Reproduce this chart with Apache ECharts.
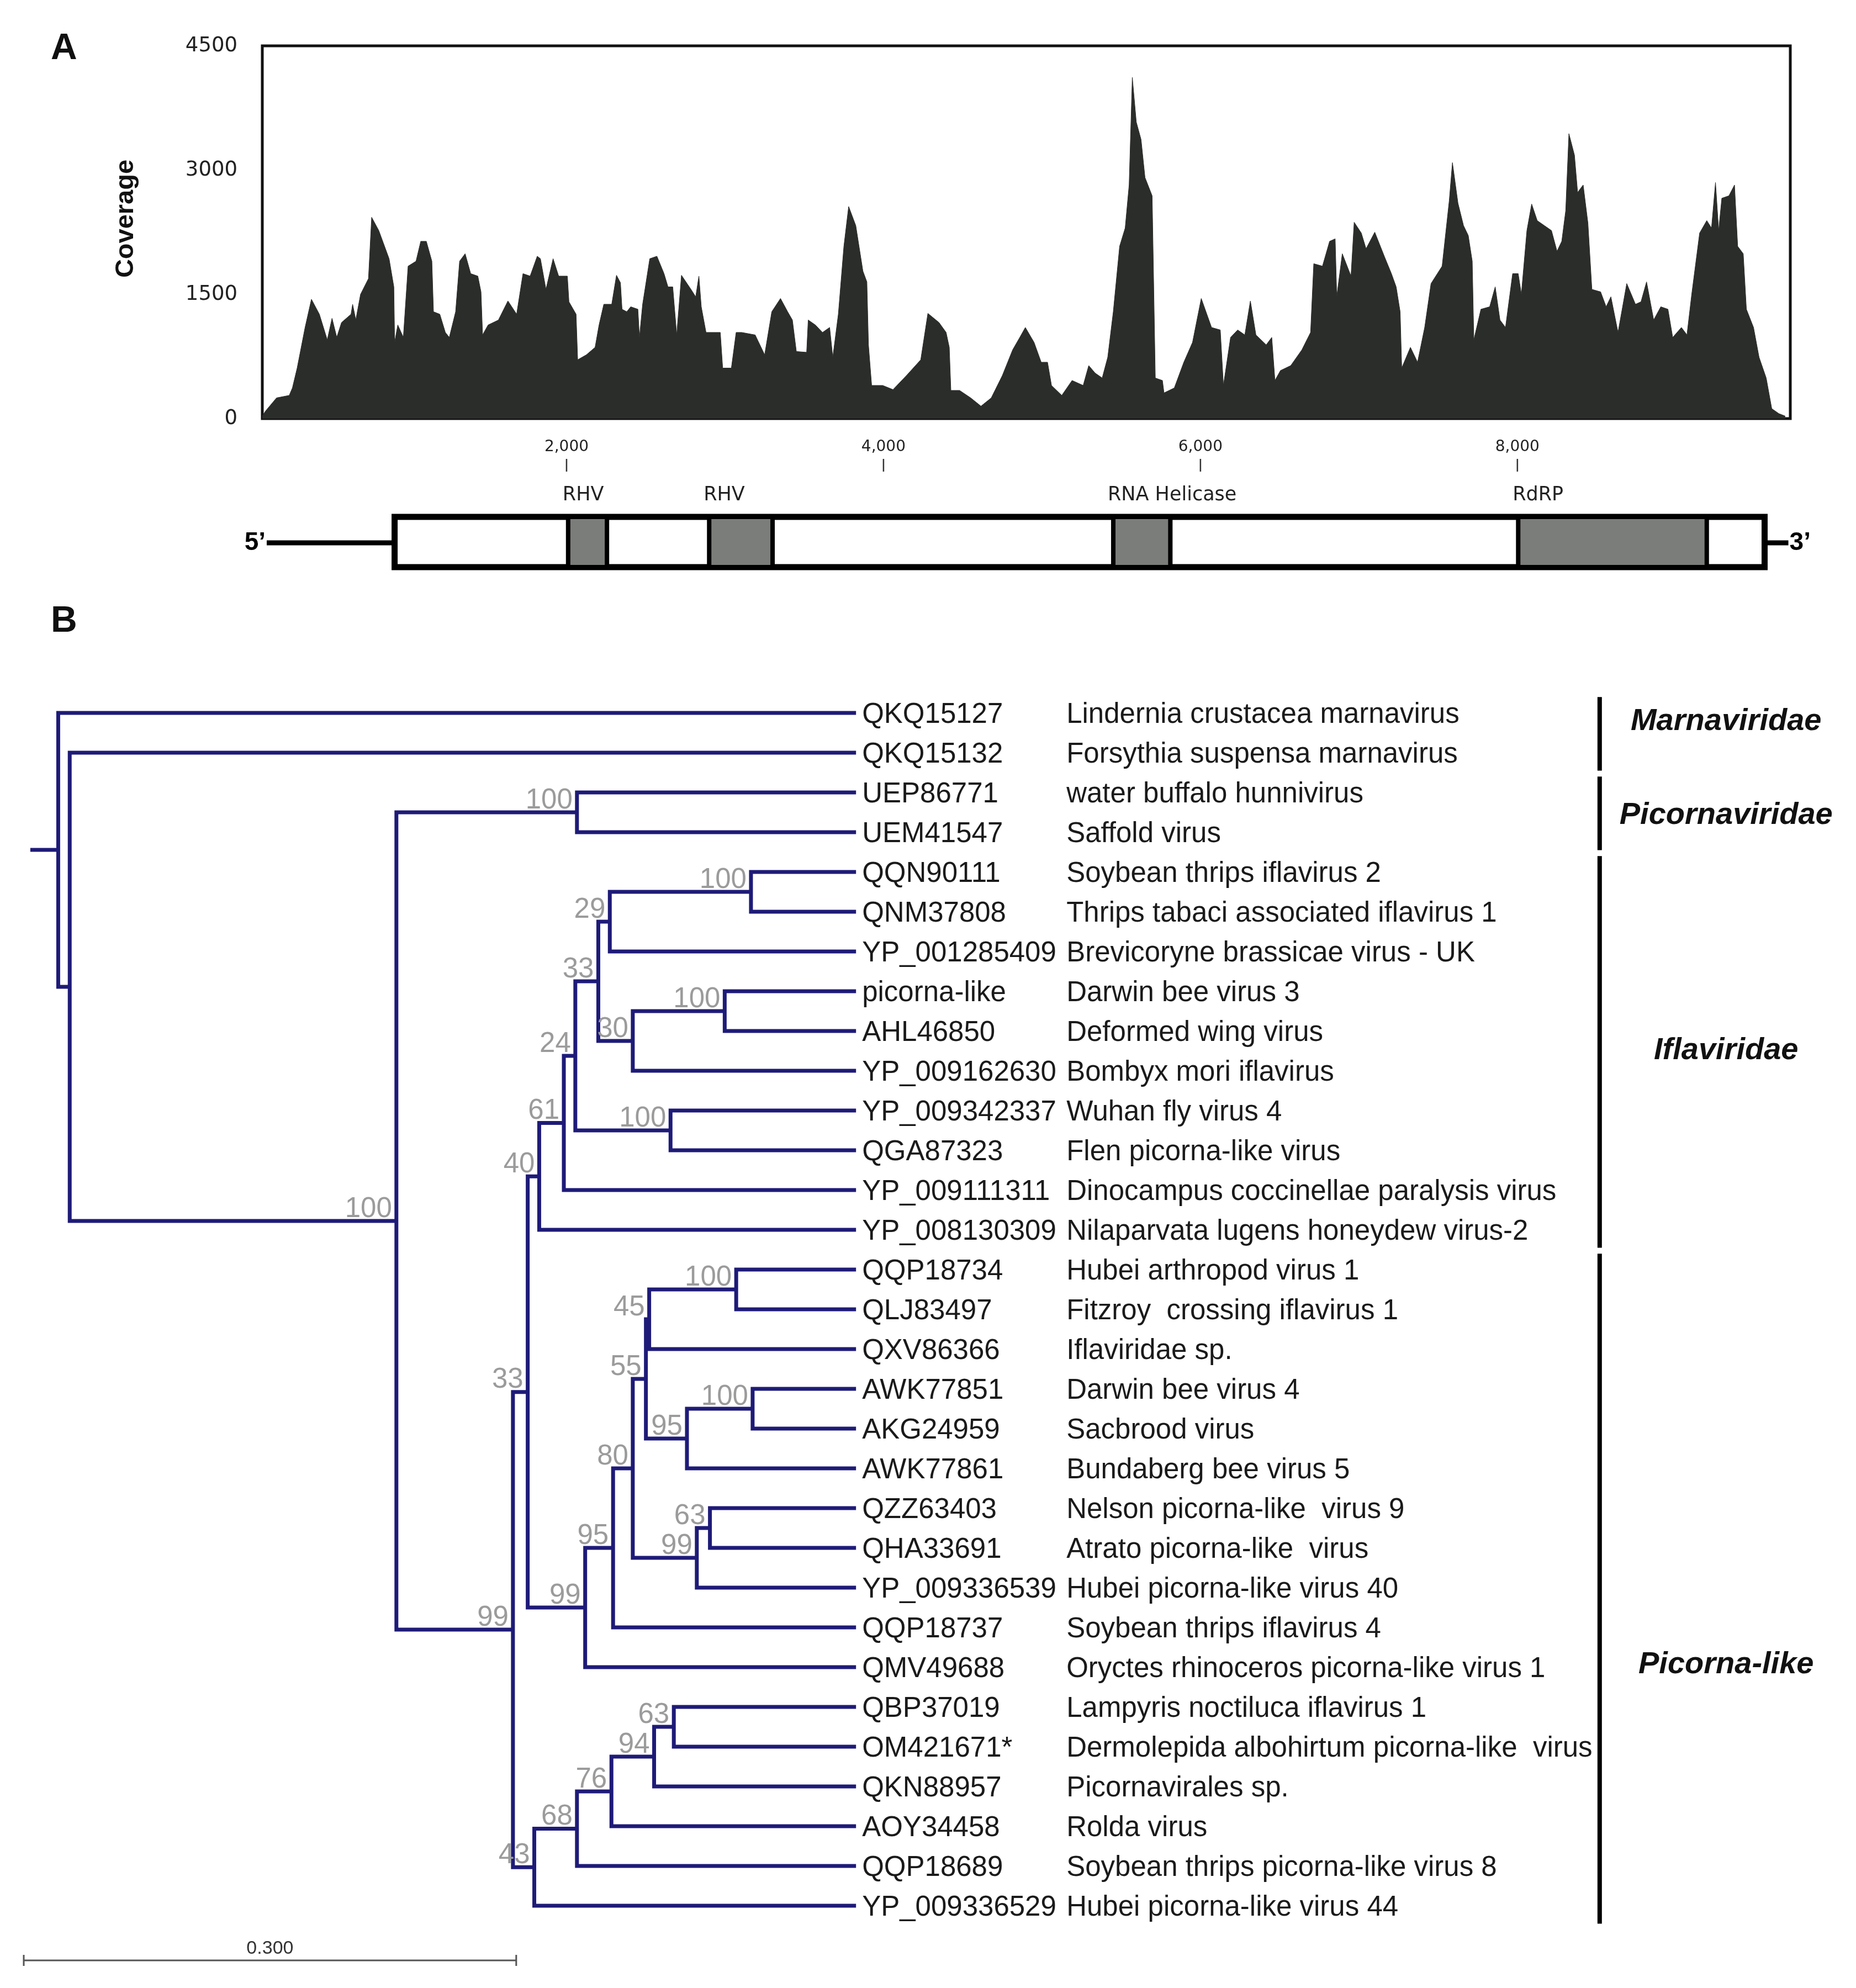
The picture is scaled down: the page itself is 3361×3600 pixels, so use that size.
<!DOCTYPE html>
<html>
<head>
<meta charset="utf-8">
<script src="https://cdn.jsdelivr.net/npm/echarts@6/dist/echarts.min.js"></script>
<style>
  html, body { margin: 0; padding: 0; background: #fff; }
  #chart { width: 3361px; height: 3600px; }
</style>
</head>
<body>
<div id="chart"></div>
<script>
// ---- panel A: read depth along the genome (position nt, coverage) ----
const covPos = [
  80, 100, 170, 250, 270, 300, 350, 390, 440, 490, 520, 550, 580, 640, 650, 670, 700, 750, 770, 815,
  880, 910, 915, 935, 970, 1000, 1050, 1080, 1115, 1150, 1160, 1200, 1235, 1260, 1300, 1325, 1360, 1395, 1440, 1460,
  1470, 1505, 1570, 1630, 1685, 1725, 1770, 1815, 1835, 1870, 1915, 1950, 2005, 2015, 2060, 2070, 2125, 2180, 2205, 2235,
  2285, 2315, 2340, 2350, 2380, 2405, 2450, 2460, 2480, 2525, 2570, 2615, 2640, 2670, 2695, 2725, 2785, 2815, 2835, 2850,
  2880, 2970, 2985, 3040, 3070, 3105, 3190, 3250, 3295, 3350, 3395, 3425, 3450, 3515, 3525, 3570, 3615, 3660, 3680, 3715,
  3750, 3780, 3825, 3870, 3895, 3905, 3925, 3995, 4060, 4145, 4235, 4280, 4350, 4395, 4415, 4425, 4480, 4550, 4615, 4680,
  4750, 4815, 4860, 4895, 4950, 4995, 5035, 5060, 5125, 5190, 5260, 5295, 5335, 5380, 5415, 5450, 5490, 5525, 5550, 5570,
  5595, 5625, 5650, 5695, 5715, 5760, 5770, 5835, 5895, 5950, 6005, 6070, 6125, 6145, 6190, 6235, 6280, 6315, 6350, 6415,
  6450, 6470, 6505, 6570, 6640, 6695, 6715, 6770, 6815, 6850, 6860, 6895, 6950, 6970, 7015, 7045, 7100, 7160, 7205, 7235,
  7260, 7270, 7325, 7370, 7415, 7455, 7525, 7570, 7590, 7625, 7660, 7690, 7715, 7725, 7770, 7825, 7860, 7890, 7925, 7970,
  8005, 8025, 8060, 8090, 8125, 8170, 8215, 8250, 8280, 8305, 8325, 8360, 8380, 8415, 8445, 8470, 8525, 8560, 8590, 8635,
  8690, 8745, 8780, 8815, 8860, 8905, 8950, 8980, 9035, 9070, 9100, 9150, 9195, 9225, 9250, 9270, 9290, 9335, 9370, 9390,
  9425, 9445, 9490, 9525, 9570, 9605, 9650, 9690
];
const covDepth = [
  30, 90, 250, 280, 370, 610, 1100, 1440, 1260, 950, 1210, 980, 1160, 1260, 1380, 1190, 1500, 1690, 2430, 2270,
  1930, 1590, 920, 1130, 980, 1840, 1900, 2140, 2140, 1900, 1290, 1260, 1040, 980, 1290, 1900, 1990, 1750, 1720, 1530,
  1010, 1130, 1190, 1420, 1260, 1750, 1720, 1960, 1930, 1560, 1930, 1720, 1720, 1410, 1260, 710, 770, 860, 1130, 1380,
  1380, 1730, 1640, 1320, 1290, 1350, 1320, 980, 1380, 1930, 1960, 1750, 1590, 1590, 1010, 1730, 1560, 1470, 1720, 1350,
  1040, 1040, 610, 610, 1040, 1040, 1010, 770, 1290, 1450, 1290, 1190, 810, 800, 1190, 1130, 1040, 1100, 740, 1260,
  2080, 2560, 2330, 1780, 1650, 890, 400, 400, 350, 520, 710, 1270, 1160, 1040, 860, 340, 340, 250, 150, 250,
  520, 830, 980, 1100, 920, 680, 680, 400, 280, 460, 400, 640, 550, 490, 740, 1290, 2080, 2300, 2820, 4120,
  3580, 3370, 2910, 2690, 490, 460, 310, 370, 680, 920, 1450, 1100, 1070, 400, 980, 1070, 1010, 1420, 1010, 890,
  980, 460, 580, 640, 830, 1040, 1870, 1840, 2140, 2170, 1470, 1990, 1720, 2370, 2240, 2050, 2250, 1960, 1750, 1590,
  1290, 610, 860, 680, 1100, 1630, 1840, 2630, 3090, 2600, 2330, 2210, 1900, 950, 1320, 1350, 1590, 1190, 1100, 1750,
  1750, 1500, 2270, 2590, 2390, 2330, 2270, 2020, 2140, 2510, 3440, 3180, 2730, 2820, 2360, 1560, 1530, 1350, 1470, 1040,
  1630, 1380, 1410, 1650, 1190, 1350, 1320, 980, 1100, 1010, 1500, 2240, 2390, 2300, 2850, 2270, 2660, 2690, 2820, 2080,
  1990, 1320, 1100, 740, 490, 120, 60, 30
];
const covTicks = [0, 1500, 3000, 4500];
const mapTicks = [2000, 4000, 6000, 8000];

// genome map: 5' end, ORF start, ORF end, 3' end (nt)
const genome = [108, 915, 9560, 9710];
const domainNames = ['RHV', 'RHV', 'RNA Helicase', 'RdRP'];
const domainStart = [2010, 2900, 5450, 8005];
const domainEnd = [2255, 3300, 5810, 9195];

// ---- panel B: ML tree ----
const leafIds = [
  'QKQ15127', 'QKQ15132', 'UEP86771', 'UEM41547', 'QQN90111', 'QNM37808', 'YP_001285409', 'picorna-like',
  'AHL46850', 'YP_009162630', 'YP_009342337', 'QGA87323', 'YP_009111311', 'YP_008130309', 'QQP18734',
  'QLJ83497', 'QXV86366', 'AWK77851', 'AKG24959', 'AWK77861', 'QZZ63403', 'QHA33691', 'YP_009336539',
  'QQP18737', 'QMV49688', 'QBP37019', 'OM421671*', 'QKN88957', 'AOY34458', 'QQP18689', 'YP_009336529'
];
const leafNames = [
  'Lindernia crustacea marnavirus', 'Forsythia suspensa marnavirus', 'water buffalo hunnivirus', 'Saffold virus',
  'Soybean thrips iflavirus 2', 'Thrips tabaci associated iflavirus 1', 'Brevicoryne brassicae virus - UK',
  'Darwin bee virus 3', 'Deformed wing virus', 'Bombyx mori iflavirus', 'Wuhan fly virus 4', 'Flen picorna-like virus',
  'Dinocampus coccinellae paralysis virus', 'Nilaparvata lugens honeydew virus-2', 'Hubei arthropod virus 1',
  'Fitzroy  crossing iflavirus 1', 'Iflaviridae sp.', 'Darwin bee virus 4', 'Sacbrood virus', 'Bundaberg bee virus 5',
  'Nelson picorna-like  virus 9', 'Atrato picorna-like  virus', 'Hubei picorna-like virus 40', 'Soybean thrips iflavirus 4',
  'Oryctes rhinoceros picorna-like virus 1', 'Lampyris noctiluca iflavirus 1', 'Dermolepida albohirtum picorna-like  virus',
  'Picornavirales sp.', 'Rolda virus', 'Soybean thrips picorna-like virus 8', 'Hubei picorna-like virus 44'
];
const tipDepth = 0.507;
const rootStub = 0.004;
// node = [depth, bootstrap, child, child]; numbers are leaf indices
const tree =
  [0.021, 0, 0,
    [0.028, 0, 1,
      [0.227, 100,
        [0.337, 100, 2, 3],
        [0.298, 99,
          [0.307, 33,
            [0.314, 40,
              [0.329, 61,
                [0.336, 24,
                  [0.350, 33,
                    [0.357, 29, [0.443, 100, 4, 5], 6],
                    [0.371, 30, [0.427, 100, 7, 8], 9]],
                  [0.394, 100, 10, 11]],
                12],
              13],
            [0.342, 99,
              [0.359, 95,
                [0.371, 80,
                  [0.379, 55,
                    [0.381, 45, [0.434, 100, 14, 15], 16],
                    [0.404, 95, [0.444, 100, 17, 18], 19]],
                  [0.410, 99, [0.418, 63, 20, 21], 22]],
                23],
              24]],
          [0.311, 43,
            [0.337, 68,
              [0.358, 76,
                [0.384, 94, [0.396, 63, 25, 26], 27],
                28],
              29],
            30]]]]];
const groupNames = ['Marnaviridae', 'Picornaviridae', 'Iflaviridae', 'Picorna-like'];
const groupFirst = [0, 2, 4, 14];
const groupLast = [1, 3, 13, 30];
const groupLabelRow = [0.22, 2.58, 8.49, 23.94];
const scaleBar = 0.3;

// layout constants
const NAVY = '#1e1b78';
const SANS = '"Liberation Sans", Arial, sans-serif';
const DEJA = '"DejaVu Sans", sans-serif';
const MAP_LINE_Y = 0.355, MAP_BOX_TOP = 0.59, MAP_BOX_BOT = 0.135, MAP_LABEL_Y = 0.785;
const BAR_X = 0.960, GROUP_LABEL_X = 1.037, SCALE_ROW = 31.375;

// walk the tree into bracket polylines and bootstrap labels
const brackets = [];
const boots = [];
function walk(n) {
  if (typeof n === 'number') return { d: tipDepth, y: n };
  const a = walk(n[2]), b = walk(n[3]);
  const y = (a.y + b.y) / 2;
  brackets.push([a.d, a.y, n[0], a.y, n[0], b.y, b.d, b.y]);
  if (n[1]) boots.push([n[0], y, n[1]]);
  return { d: n[0], y: y };
}
const rootPos = walk(tree);
brackets.push([rootStub, rootPos.y, rootPos.d, rootPos.y, rootPos.d, rootPos.y, rootPos.d, rootPos.y]);

const chart = echarts.init(document.getElementById('chart'));

chart.setOption({
  backgroundColor: '#fff',
  animation: false,
  graphic: [
    { type: 'text', left: 92, top: 56, style: { text: 'A', font: 'bold 66px ' + SANS, fill: '#111' } },
    { type: 'text', left: 92, top: 1093, style: { text: 'B', font: 'bold 66px ' + SANS, fill: '#111' } },
    { type: 'text', x: 228, y: 396, rotation: Math.PI / 2,
      style: { text: 'Coverage', font: 'bold 47px ' + SANS, fill: '#111', align: 'center', verticalAlign: 'middle' } }
  ],
  grid: [
    { left: 475, top: 83, width: 2767, height: 675, show: true, borderColor: '#111', borderWidth: 5,
      containLabel: false, outerBoundsMode: 'none' },
    { left: 452, top: 854, width: 2790, height: 200, containLabel: false, outerBoundsMode: 'none' },
    { left: 43, top: 1219, width: 3270, height: 2376, containLabel: false, outerBoundsMode: 'none' }
  ],
  xAxis: [
    { gridIndex: 0, type: 'value', min: 80, max: 9722, show: false },
    { gridIndex: 1, type: 'value', min: 0, max: 9722, show: false },
    { gridIndex: 2, type: 'value', min: 0, max: 1.1, show: false }
  ],
  yAxis: [
    {
      gridIndex: 0, type: 'value', min: 0, max: 4500, interval: 1500,
      axisLine: { show: false }, axisTick: { show: false }, splitLine: { show: false },
      axisLabel: { margin: 45, fontSize: 37, fontFamily: DEJA, color: '#222',
        formatter: v => covTicks.includes(v) ? String(v) : '' }
    },
    { gridIndex: 1, type: 'value', min: 0, max: 1, show: false },
    { gridIndex: 2, type: 'value', min: -1, max: 32, inverse: true, show: false }
  ],
  series: [
    {
      type: 'line', xAxisIndex: 0, yAxisIndex: 0,
      data: covPos.map((p, i) => [p, covDepth[i]]),
      showSymbol: false, symbol: 'none',
      lineStyle: { color: '#2b2d2a', width: 1 },
      areaStyle: { color: '#2b2d2a', opacity: 1 }
    },
    {
      // genome position ticks above the map (labels sit above the tick marks)
      type: 'custom', xAxisIndex: 1, yAxisIndex: 1,
      data: mapTicks.map(v => [v]),
      renderItem: (params, api) => {
        const p = api.coord([api.value(0), 1]);
        return {
          type: 'group', children: [
            { type: 'line', shape: { x1: p[0], y1: p[1] - 23, x2: p[0], y2: p[1] }, style: { stroke: '#333', lineWidth: 2.5 } },
            { type: 'text', x: p[0], y: p[1] - 44, style: { text: api.value(0).toLocaleString('en-US'),
              font: '28px ' + DEJA, fill: '#222', align: 'center', verticalAlign: 'middle' } }
          ]
        };
      }
    },
    {
      // genome backbone and ORF box
      type: 'custom', xAxisIndex: 1, yAxisIndex: 1,
      data: [genome],
      renderItem: (params, api) => {
        const s = api.coord([api.value(0), MAP_LINE_Y]);
        const a = api.coord([api.value(1), MAP_BOX_TOP]);
        const b = api.coord([api.value(2), MAP_BOX_BOT]);
        const e = api.coord([api.value(3), MAP_LINE_Y]);
        return {
          type: 'group', children: [
            { type: 'line', shape: { x1: s[0], y1: s[1], x2: a[0], y2: s[1] }, style: { stroke: '#000', lineWidth: 9 } },
            { type: 'line', shape: { x1: b[0], y1: e[1], x2: e[0], y2: e[1] }, style: { stroke: '#000', lineWidth: 9 } },
            { type: 'rect', shape: { x: a[0], y: a[1], width: b[0] - a[0], height: b[1] - a[1] },
              style: { fill: '#fff', stroke: '#000', lineWidth: 11 } },
            { type: 'text', x: s[0] - 2, y: s[1], style: { text: '5\u2019', font: 'bold 46px ' + SANS, fill: '#000',
              align: 'right', verticalAlign: 'middle' } },
            { type: 'text', x: e[0] + 2, y: e[1], style: { text: '3\u2019', font: 'bold 46px ' + SANS, fill: '#000',
              align: 'left', verticalAlign: 'middle' } }
          ]
        };
      }
    },
    {
      // protein domains
      type: 'custom', xAxisIndex: 1, yAxisIndex: 1, z: 3,
      data: domainStart.map((s, i) => [s, domainEnd[i], i]),
      renderItem: (params, api) => {
        const a = api.coord([api.value(0), MAP_BOX_TOP]);
        const b = api.coord([api.value(1), MAP_BOX_BOT]);
        const t = api.coord([api.value(0), MAP_LABEL_Y]);
        return {
          type: 'group', children: [
            { type: 'rect', shape: { x: a[0], y: a[1], width: b[0] - a[0], height: b[1] - a[1] },
              style: { fill: '#7b7d7a', stroke: '#000', lineWidth: 8 } },
            { type: 'text', x: t[0] - 10, y: t[1], style: { text: domainNames[api.value(2)], font: '35px ' + DEJA,
              fill: '#222', align: 'left', verticalAlign: 'middle' } }
          ]
        };
      }
    },
    {
      // tree branches
      type: 'custom', xAxisIndex: 2, yAxisIndex: 2,
      data: brackets,
      renderItem: (params, api) => {
        const pts = [0, 2, 4, 6].map(k => api.coord([api.value(k), api.value(k + 1)]));
        return { type: 'polyline', shape: { points: pts },
          style: { stroke: NAVY, lineWidth: 7, fill: null, lineJoin: 'miter' } };
      }
    },
    {
      // bootstrap values
      type: 'custom', xAxisIndex: 2, yAxisIndex: 2,
      data: boots,
      renderItem: (params, api) => {
        const p = api.coord([api.value(0), api.value(1)]);
        return { type: 'text', x: p[0] - 8, y: p[1] + 4,
          style: { text: String(api.value(2)), font: '51px ' + SANS, fill: '#9b9b9b', align: 'right', verticalAlign: 'bottom' } };
      }
    },
    {
      // tip labels
      type: 'custom', xAxisIndex: 2, yAxisIndex: 2,
      data: leafIds.map((id, i) => [tipDepth, i]),
      renderItem: (params, api) => {
        const p = api.coord([api.value(0), api.value(1)]);
        const i = params.dataIndex;
        return {
          type: 'group', children: [
            { type: 'text', x: p[0] + 11, y: p[1] + 4, style: { text: leafIds[i], font: '51px ' + SANS, fill: '#1a1a1a',
              align: 'left', verticalAlign: 'middle' } },
            { type: 'text', x: p[0] + 381, y: p[1] + 4, style: { text: leafNames[i], font: '51px ' + SANS, fill: '#1a1a1a',
              align: 'left', verticalAlign: 'middle' } }
          ]
        };
      }
    },
    {
      // clade bars and names
      type: 'custom', xAxisIndex: 2, yAxisIndex: 2,
      data: groupNames.map((g, i) => [BAR_X, groupFirst[i] - 0.4, groupLast[i] + 0.45, groupLabelRow[i], i]),
      renderItem: (params, api) => {
        const a = api.coord([api.value(0), api.value(1)]);
        const b = api.coord([api.value(0), api.value(2)]);
        const t = api.coord([GROUP_LABEL_X, api.value(3)]);
        return {
          type: 'group', children: [
            { type: 'line', shape: { x1: a[0], y1: a[1], x2: b[0], y2: b[1] }, style: { stroke: '#000', lineWidth: 8 } },
            { type: 'text', x: t[0], y: t[1], style: { text: groupNames[api.value(4)], font: 'italic bold 56px ' + SANS,
              fill: '#111', align: 'center', verticalAlign: 'middle' } }
          ]
        };
      }
    },
    {
      // scale bar
      type: 'custom', xAxisIndex: 2, yAxisIndex: 2,
      data: [[0, scaleBar, SCALE_ROW]],
      renderItem: (params, api) => {
        const a = api.coord([api.value(0), api.value(2)]);
        const b = api.coord([api.value(1), api.value(2)]);
        const st = { stroke: '#555', lineWidth: 3 };
        return {
          type: 'group', children: [
            { type: 'line', shape: { x1: a[0], y1: a[1], x2: b[0], y2: b[1] }, style: st },
            { type: 'line', shape: { x1: a[0], y1: a[1] - 10, x2: a[0], y2: a[1] + 10 }, style: st },
            { type: 'line', shape: { x1: b[0], y1: b[1] - 10, x2: b[0], y2: b[1] + 10 }, style: st },
            { type: 'text', x: (a[0] + b[0]) / 2, y: a[1] - 4, style: { text: scaleBar.toFixed(3), font: '34px ' + SANS,
              fill: '#333', align: 'center', verticalAlign: 'bottom' } }
          ]
        };
      }
    }
  ]
});
</script>
</body>
</html>
